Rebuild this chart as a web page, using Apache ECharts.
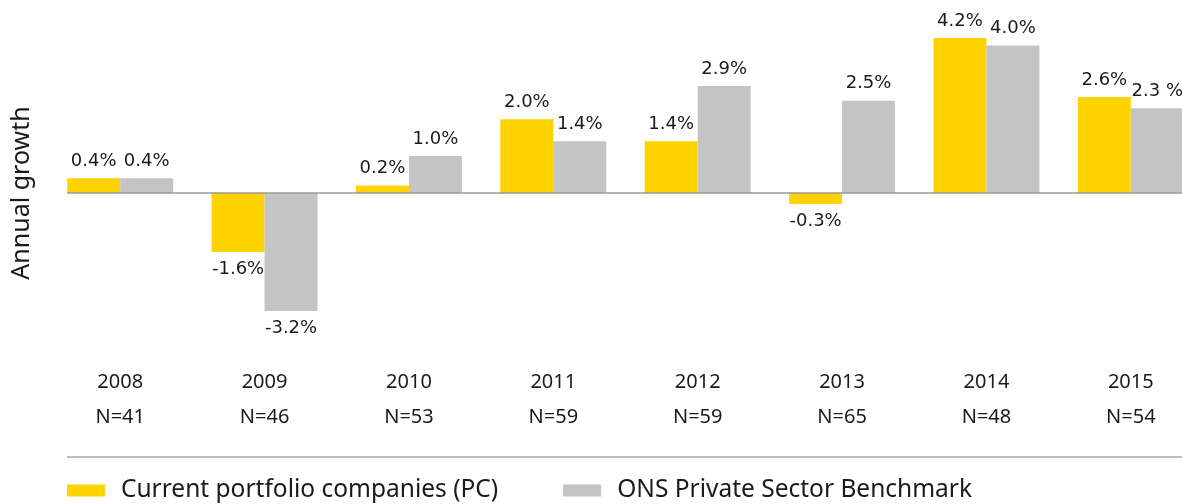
<!DOCTYPE html>
<html>
<head>
<meta charset="utf-8">
<script src="https://cdn.jsdelivr.net/npm/echarts@6/dist/echarts.min.js"></script>
<style>
  html, body { margin: 0; padding: 0; background: #fff; overflow: hidden; }
  /* the plot runs past the right edge in the original, so the canvas is wider than the window */
  #chart { width: 1203px; height: 504px; }
</style>
</head>
<body>
<div id="chart"></div>
<script>
const years = ['2008', '2009', '2010', '2011', '2012', '2013', '2014', '2015']
const sampleSizes = ['N=41', 'N=46', 'N=53', 'N=59', 'N=59', 'N=65', 'N=48', 'N=54']
const portfolio = [0.4, -1.6, 0.2, 2.0, 1.4, -0.3, 4.2, 2.6]
const benchmark = [0.4, -3.2, 1.0, 1.4, 2.9, 2.5, 4.0, 2.3]
const portfolioLabels = ['0.4%', '-1.6%', '0.2%', '2.0%', '1.4%', '-0.3%', '4.2%', '2.6%']
const benchmarkLabels = ['0.4%', '-3.2%', '1.0%', '1.4%', '2.9%', '2.5%', '4.0%', '2.3 %']

const textColor = '#1a1a1a'
const font = '"Noto Sans", "DejaVu Sans", sans-serif'

const toData = (values, labels) => values.map((v, i) => ({
  value: v,
  label: { position: v < 0 ? 'bottom' : 'top', formatter: labels[i] }
}))

const barLabel = {
  show: true,
  distance: 8,
  color: textColor,
  fontSize: 18,
  fontFamily: '"DejaVu Sans", sans-serif'
}

const chart = echarts.init(document.getElementById('chart'))

const option = {
  animation: false,
  grid: { left: 48, right: 0, top: 27, bottom: 145 },
  legend: {
    bottom: -4,
    left: 62,
    itemWidth: 38,
    itemHeight: 12,
    itemGap: 65,
    icon: 'rect',
    textStyle: { color: textColor, fontSize: 24.5, fontFamily: font, padding: [0, 0, 0, 11] },
    data: ['Current portfolio companies (PC)', 'ONS Private Sector Benchmark']
  },
  xAxis: {
    type: 'category',
    data: years.map((y, i) => y + '\n' + sampleSizes[i]),
    axisLine: { show: false },
    axisTick: { show: false },
    axisLabel: { color: textColor, fontSize: 20, fontFamily: font, lineHeight: 35, margin: 6 }
  },
  yAxis: {
    type: 'value',
    min: -4.5,
    max: 4.5,
    name: 'Annual growth',
    nameLocation: 'middle',
    nameGap: 14,
    nameTextStyle: { color: textColor, fontSize: 25, fontFamily: font },
    axisLine: { show: false },
    axisTick: { show: false },
    axisLabel: { show: false },
    splitLine: { show: false }
  },
  series: [
    {
      name: 'Current portfolio companies (PC)',
      type: 'bar',
      barGap: 0,
      barCategoryGap: '26.6%',
      itemStyle: { color: '#FFD300' },
      label: barLabel,
      data: toData(portfolio, portfolioLabels)
    },
    {
      name: 'ONS Private Sector Benchmark',
      type: 'bar',
      barGap: 0,
      barCategoryGap: '26.6%',
      itemStyle: { color: '#C4C4C4' },
      label: barLabel,
      data: toData(benchmark, benchmarkLabels)
    }
  ]
}

chart.setOption(option)

// zero line and divider above the legend
const zeroY = chart.convertToPixel({ yAxisIndex: 0 }, 0)
chart.setOption({
  graphic: [
    {
      type: 'line',
      shape: { x1: 67, y1: zeroY, x2: 1203, y2: zeroY },
      style: { stroke: '#9a9a9a', lineWidth: 1.5 },
      z: 10
    },
    {
      type: 'line',
      shape: { x1: 67, y1: 457, x2: 1203, y2: 457 },
      style: { stroke: '#a8a8a8', lineWidth: 1.5 }
    }
  ]
})
</script>
</body>
</html>
